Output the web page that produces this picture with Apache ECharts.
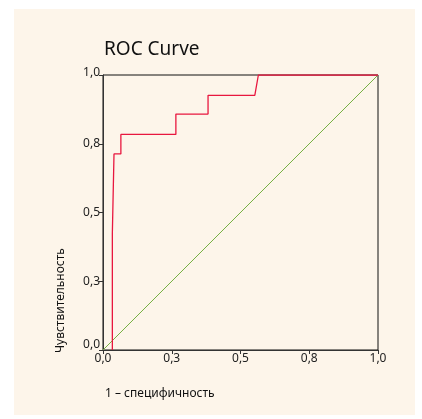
<!DOCTYPE html>
<html>
<head>
<meta charset="utf-8">
<script src="https://cdn.jsdelivr.net/npm/echarts@6/dist/echarts.min.js"></script>
<style>
html,body{margin:0;padding:0;background:#ffffff;}
#chart{width:422px;height:419px;}
</style>
</head>
<body>
<div id="chart"></div>
<script>
// ROC curve points (1 - specificity, sensitivity)
const fpr = [0.034, 0.034, 0.040, 0.040, 0.065, 0.065, 0.265, 0.265, 0.382, 0.382, 0.552, 0.565, 1.0];
const tpr = [0.000, 0.424, 0.424, 0.713, 0.713, 0.784, 0.784, 0.858, 0.858, 0.926, 0.926, 1.000, 1.0];
// reference diagonal
const diagX = [0, 1];
const diagY = [0, 1];
// tick values and labels
const tickValues = [0, 0.25, 0.5, 0.75, 1];
const tickLabels = ['0,0', '0,3', '0,5', '0,8', '1,0'];

const titleText = 'ROC Curve';
const xName = '1 – специфичность';
const yName = 'Чувствительность';

const FONT = 'Noto Sans';
const labelOf = v => {
  const i = tickValues.findIndex(t => Math.abs(t - v) < 1e-9);
  return i >= 0 ? tickLabels[i] : '';
};
const yFmt = v => {
  const s = labelOf(v);
  if (Math.abs(v) < 1e-9) return '{low|' + s + '}';
  if (Math.abs(v - 1) < 1e-9) return '{top|' + s + '}';
  return s;
};

const chart = echarts.init(document.getElementById('chart'));
chart.setOption({
  animation: false,
  backgroundColor: '#ffffff',
  textStyle: { fontFamily: FONT },
  graphic: [
    { type: 'rect', z: -10, shape: { x: 14, y: 9, width: 401, height: 406 }, style: { fill: '#fdf5ea' } },
    { type: 'text', left: 104, top: 40, style: { text: titleText, font: '19px "Noto Sans"', fill: '#111' } },
    { type: 'text', left: 105, top: 388, style: { text: xName, font: '12px "Noto Sans"', fill: '#111' } },
    { type: 'text', x: 55, y: 353, rotation: Math.PI / 2, style: { text: yName, font: '12px "Noto Sans"', fill: '#111', textAlign: 'left', textVerticalAlign: 'top' } }
  ],
  grid: { left: 103, top: 75, width: 275, height: 275, show: true, borderColor: '#111', borderWidth: 1, backgroundColor: 'transparent' },
  xAxis: {
    type: 'value', min: 0, max: 1, interval: 0.25,
    axisLine: { show: true, onZero: false, lineStyle: { color: '#333', width: 1 } },
    axisTick: { show: true, length: 4, lineStyle: { color: '#333' } },
    axisLabel: { formatter: labelOf, color: '#222', fontSize: 12, margin: 3, fontFamily: FONT },
    splitLine: { show: false }
  },
  yAxis: {
    type: 'value', min: 0, max: 1, interval: 0.25,
    axisLine: { show: true, onZero: false, lineStyle: { color: '#333', width: 1 } },
    axisTick: { show: true, length: 4, lineStyle: { color: '#333' } },
    axisLabel: {
      formatter: yFmt, color: '#222', fontSize: 12, margin: 3, fontFamily: FONT, verticalAlign: 'middle',
      rich: {
        low: { fontSize: 12, color: '#222', fontFamily: FONT, padding: [0, 0, 10, 0] },
        top: { fontSize: 12, color: '#222', fontFamily: FONT, padding: [0, 0, 4, 0] }
      }
    },
    splitLine: { show: false }
  },
  series: [
    {
      type: 'line', data: diagX.map((x, i) => [x, diagY[i]]), symbol: 'none',
      lineStyle: { color: '#77b043', width: 1 }, z: 2
    },
    {
      type: 'line', data: fpr.map((x, i) => [x, tpr[i]]), symbol: 'none',
      lineStyle: { color: '#e8173f', width: 1.3 }, z: 3
    }
  ]
});
</script>
</body>
</html>
